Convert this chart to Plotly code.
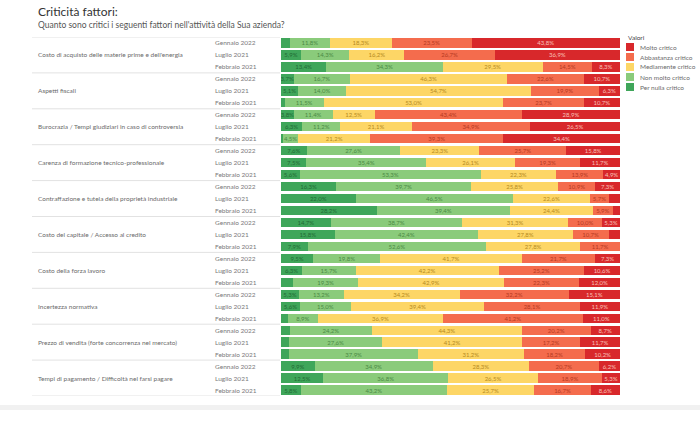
import plotly.graph_objects as go

factors = [
    "Costo di acquisto delle materie prime e dell'energia",
    "Aspetti fiscali",
    "Burocrazia / Tempi giudiziari in caso di controversia",
    "Carenza di formazione tecnico-professionale",
    "Contraffazione e tutela della proprietà industriale",
    "Costo del capitale / Accesso al credito",
    "Costo della forza lavoro",
    "Incertezza normativa",
    "Prezzo di vendita (forte concorrenza nel mercato)",
    "Tempi di pagamento / Difficoltà nel farsi pagare",
]
periods = ["Gennaio 2022", "Luglio 2021", "Febbraio 2021"]

series_names = ["Per nulla critico", "Non molto critico", "Mediamente critico",
                "Abbastanza critico", "Molto critico"]
series_colors = ["#3fa65a", "#8acb7b", "#fdd666", "#f46c4d", "#d8282b"]
text_colors = ["#1f6b35", "#4a8a45", "#b58a1f", "#b53a22", "#f8c0b8"]

# values per row (factor x period order), one list per series
per_nulla = [2.6, 5.9, 13.4, 3.7, 5.1, 1.1, 3.8, 6.3, 0.6, 7.6, 7.5, 5.6,
             16.3, 22.0, 28.2, 14.7, 15.8, 7.9, 9.5, 6.3, 3.5, 5.3, 5.6, 2.0,
             2.6, 2.3, 2.5, 9.9, 12.5, 5.8]
non_molto = [11.8, 14.3, 34.3, 16.7, 14.0, 11.5, 11.4, 11.2, 4.5, 27.6, 35.4, 53.3,
             39.7, 46.5, 39.4, 38.7, 42.4, 52.6, 19.8, 15.7, 19.3, 13.2, 15.0, 8.9,
             24.2, 27.6, 37.9, 34.9, 36.8, 43.2]
mediamente = [18.3, 16.2, 29.5, 46.3, 54.7, 53.0, 12.5, 21.1, 21.2, 23.3, 26.1, 22.3,
              25.8, 22.6, 24.4, 31.3, 27.8, 27.8, 41.7, 42.2, 42.9, 34.2, 39.4, 36.9,
              44.3, 41.2, 31.2, 28.3, 26.5, 25.7]
abbastanza = [23.5, 26.7, 14.5, 22.6, 19.9, 23.7, 43.4, 34.9, 39.3, 25.7, 19.3, 13.9,
              10.9, 5.7, 5.9, 10.0, 10.7, 11.7, 21.7, 25.2, 22.3, 32.2, 28.1, 41.2,
              20.2, 17.2, 18.2, 20.7, 18.9, 16.7]
molto = [43.8, 36.9, 8.3, 10.7, 6.3, 10.7, 28.9, 26.5, 34.4, 15.8, 11.7, 4.9,
         7.3, 3.2, 2.1, 5.3, 3.3, 0.0, 7.3, 10.6, 12.0, 15.1, 11.9, 11.0,
         8.7, 11.7, 10.2, 6.2, 5.3, 8.6]
series_values = [per_nulla, non_molto, mediamente, abbastanza, molto]

W, H = 700, 425
T, B = 37, 29
PH = H - T - B
FONT = "Lato"


def py(pix):
    """pixel row -> paper y"""
    return (H - B - pix) / PH


def fmt(v):
    return (f"{v:.1f}".replace(".", ",") + "%") if v >= 3.6 else ""


rows = [f"{f}|{p}" for f in factors for p in periods]

fig = go.Figure()
for name, vals, col, tcol in zip(series_names, series_values, series_colors, text_colors):
    fig.add_trace(go.Bar(
        y=rows, x=vals, orientation="h", name=name,
        marker=dict(color=col, line=dict(width=0)),
        text=[fmt(v) for v in vals], texttemplate="%{text}",
        textposition="inside", insidetextanchor="middle", constraintext="none",
        textfont=dict(family=FONT, size=6, color=tcol),
        showlegend=False, hoverinfo="skip",
    ))

annotations = []
shapes = []
# row labels
for gi, f in enumerate(factors):
    annotations.append(dict(x=36 / W, xref="paper", y=rows[3 * gi + 1], yref="y",
                            text=f, showarrow=False, xanchor="left", yanchor="middle",
                            font=dict(family=FONT, size=6.5, color="#6b6b6b")))
    for pi, p in enumerate(periods):
        annotations.append(dict(x=213 / W, xref="paper", y=rows[3 * gi + pi], yref="y",
                                text=p, showarrow=False, xanchor="left", yanchor="middle",
                                font=dict(family=FONT, size=6.5, color="#7a7a7a")))
# group separators
for gi in range(len(factors) + 1):
    shapes.append(dict(type="line", xref="paper", yref="y",
                       x0=32 / W, x1=280 / W, y0=3 * gi - 0.5, y1=3 * gi - 0.5,
                       line=dict(color="#e2e2e2", width=1)))

# title / subtitle
annotations.append(dict(x=36 / W, xref="paper", y=py(12), yref="paper",
                        text="Criticità fattori:", showarrow=False, xanchor="left",
                        yanchor="middle", font=dict(family=FONT, size=12, color="#333333")))
annotations.append(dict(x=36 / W, xref="paper", y=py(25), yref="paper",
                        text="Quanto sono critici i seguenti fattori nell'attività della Sua azienda?",
                        showarrow=False, xanchor="left", yanchor="middle",
                        font=dict(family=FONT, size=8.5, color="#555555")))

# custom legend
annotations.append(dict(x=626 / W, xref="paper", y=py(38), yref="paper",
                        text="Valori", showarrow=False, xanchor="left", yanchor="middle",
                        font=dict(family=FONT, size=6.5, color="#444444")))
for i, (name, col) in enumerate(zip(series_names[::-1], series_colors[::-1])):
    yc = 47 + i * 10
    shapes.append(dict(type="rect", xref="paper", yref="paper",
                       x0=626 / W, x1=634 / W, y0=py(yc + 4), y1=py(yc - 4),
                       fillcolor=col, line=dict(width=0)))
    annotations.append(dict(x=638 / W, xref="paper", y=py(yc), yref="paper",
                            text=name, showarrow=False, xanchor="left", yanchor="middle",
                            font=dict(family=FONT, size=6.5, color="#6b6b6b")))

# bottom band
shapes.append(dict(type="rect", xref="paper", yref="paper", x0=0, x1=1,
                   y0=py(410), y1=py(405), fillcolor="#f1f1f1", line=dict(width=0)))

fig.update_layout(
    width=W, height=H, barmode="stack", bargap=0.22,
    margin=dict(l=0, r=0, t=T, b=B),
    paper_bgcolor="white", plot_bgcolor="white",
    font=dict(family=FONT),
    hovermode=False,
    xaxis=dict(domain=[281 / W, 620 / W], range=[0, 100], visible=False, fixedrange=True),
    yaxis=dict(type="category", categoryorder="array", categoryarray=rows,
               range=[len(rows) - 0.5, -0.5], showticklabels=False, showgrid=False,
               zeroline=False, fixedrange=True),
    annotations=annotations, shapes=shapes,
)
fig.write_html("out.html", config={"displayModeBar": False, "staticPlot": True},
               post_script="document.body.style.margin='0px';document.body.style.overflow='hidden';")
